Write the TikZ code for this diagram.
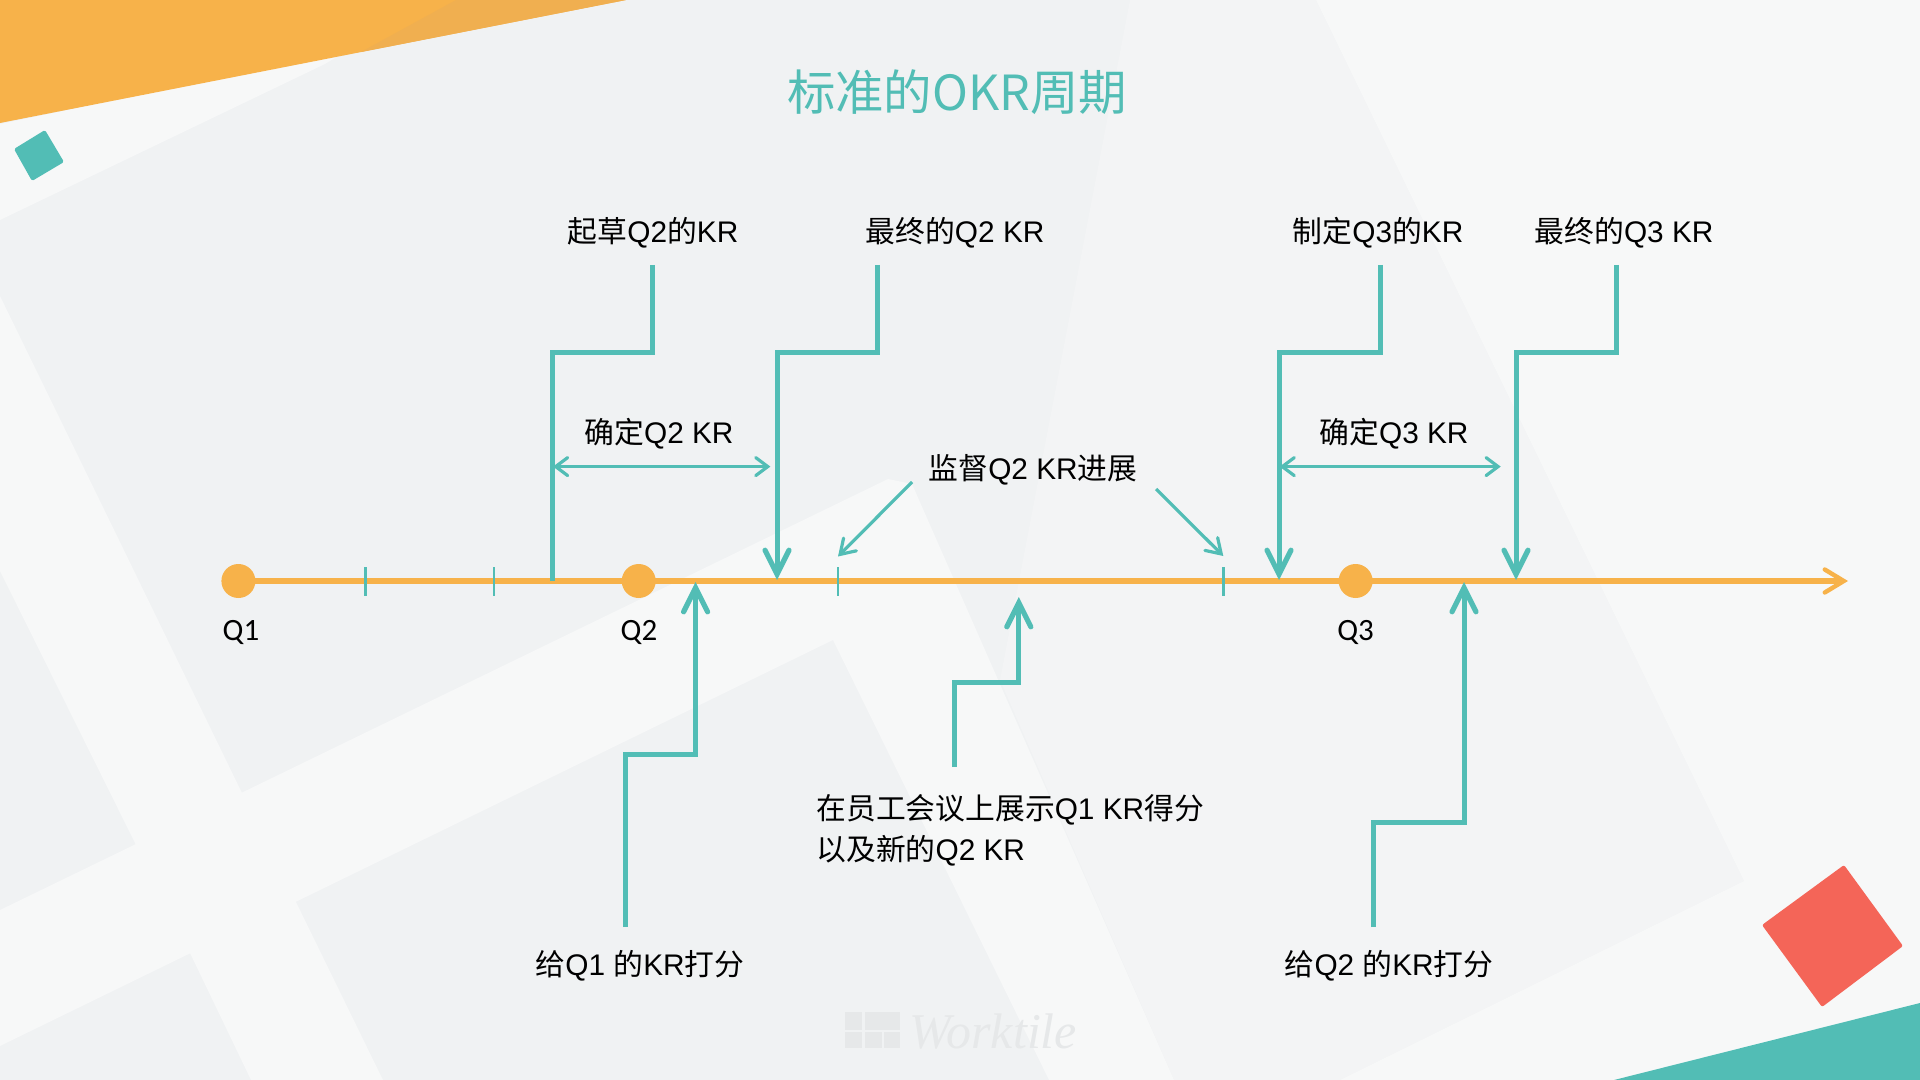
\documentclass[tikz,border=0pt]{standalone}
\usepackage{fontspec}
\usetikzlibrary{arrows.meta}
\setmainfont{Liberation Sans}
\newfontfamily\cjkf{Noto Sans CJK SC}
\newfontfamily\qf{Carlito}
\newfontfamily\wmf{Liberation Serif}
\newcommand\zh[1]{{\cjkf #1}}
\definecolor{bgdark}{HTML}{F0F2F3}
\definecolor{bglight}{HTML}{F7F8F8}
\definecolor{bgmid}{HTML}{F3F4F5}
\definecolor{orangeC}{HTML}{F7B24A}
\definecolor{orangeD}{HTML}{F0AF50}
\definecolor{tealC}{HTML}{52BDB5}
\definecolor{redC}{HTML}{F46558}
\definecolor{logoC}{HTML}{E6E8E9}
\tikzset{
  conn/.style={draw=tealC,line width=2.5pt,line join=miter},
  thick head/.style={-{Straight Barb[length=12pt,width=12pt,line cap=round,line width=2.6pt]}},
  thin conn/.style={draw=tealC,line width=1.6pt},
  thin head/.style={-{Straight Barb[length=7pt,width=9pt,line cap=round,line width=1.6pt]}},
  thin both/.style={{Straight Barb[length=6pt,width=9pt,line cap=round,line width=1.6pt]}-{Straight Barb[length=6pt,width=9pt,line cap=round,line width=1.6pt]}},
  axisline/.style={draw=orangeC,line width=2.7pt,-{Straight Barb[length=9.5pt,width=11.5pt,line cap=round,line width=2.2pt]}},
  tickmark/.style={draw=tealC,line width=1.4pt},
  qdot/.style={circle,fill=orangeC,minimum size=17pt,inner sep=0pt},
  lab/.style={font=\fontsize{14.9pt}{18pt}\selectfont,text=black,inner sep=0pt},
  qlab/.style={font=\fontsize{15.5pt}{18pt}\qf,text=black,inner sep=0pt}
}
\begin{document}
\begin{tikzpicture}[x=0.5pt,y=-0.5pt]
\useasboundingbox (0,0) rectangle (1920,1080);
% background
\fill[bgdark] (0,0) rectangle (1920,1080);
\fill[bgmid] (1130,0) -- (1316,0) -- (1744,881) -- (1340,1080) -- (1174,1080) -- (1000,680) -- cycle;
\fill[bglight] (0,124) -- (345,52) -- (325,64) -- (0,220) -- cycle;
\fill[bglight] (0,296) -- (119,540) -- (242,793) -- (296,902) -- (383,1080) -- (251,1080) -- (190,953) -- (135,843) -- (0,571) -- cycle;
\fill[bglight] (0,910) -- (888,479) -- (912,484) -- (1174,1080) -- (1049,1080) -- (833,640) -- (0,1046) -- cycle;
\fill[bglight] (1316,0) -- (1920,0) -- (1920,1080) -- (1340,1080) -- (1744,881) -- cycle;
% decorations
\fill[orangeC] (0,0) -- (626,0) -- (0,123) -- cycle;
\fill[orangeD] (456,0) -- (626,0) -- (361,52) -- cycle;
\fill[tealC,rounded corners=0.8pt] (45,130) -- (64,162) -- (32,181) -- (14,149) -- cycle;
\fill[redC,rounded corners=1pt] (1844,865) -- (1903,946) -- (1822,1007) -- (1762,925) -- cycle;
\fill[tealC] (1614,1080) -- (1920,1003) -- (1920,1080) -- cycle;
% watermark
\fill[logoC] (845,1012) rectangle (862,1030);
\fill[logoC] (865,1012) rectangle (900,1030);
\fill[logoC] (845,1032) rectangle (862,1048);
\fill[logoC] (865,1032) rectangle (882,1048);
\fill[logoC] (884,1032) rectangle (900,1048);
\node[inner sep=0pt,text=logoC,anchor=west,font=\fontsize{25pt}{28pt}\wmf\itshape] (wm) at (909,1032) {Worktile};
% title
\node[inner sep=0pt,text=tealC,font=\fontsize{24.2pt}{28pt}\cjkf] (title) at (957,92) {标准的OKR周期};
% axis nodes
\coordinate (axisA) at (238,581);
\coordinate (axisB) at (1848,581);
\draw[axisline] (axisA) -- (axisB);
\node[qdot] (q1) at (238.4,581) {};
\node[qdot] (q2) at (638.7,581) {};
\node[qdot] (q3) at (1355.6,581) {};
\node[qlab] (q1l) at (241,632) {Q1};
\node[qlab] (q2l) at (639,632) {Q2};
\node[qlab] (q3l) at (1355.6,632) {Q3};
% ticks
\foreach \n/\x in {ta/365.6,tb/494,tc/838,td/1223.3}{
  \coordinate (\n1) at (\x,567);
  \coordinate (\n2) at (\x,596);
  \draw[tickmark] (\n1) -- (\n2);
}
% labels
\node[lab] (l1) at (653,233) {\zh{起草}Q2\zh{的}KR};
\node[lab] (l2) at (955,233) {\zh{最终的}Q2 KR};
\node[lab] (l3) at (1378,233) {\zh{制定}Q3\zh{的}KR};
\node[lab] (l4) at (1624,233) {\zh{最终的}Q3 KR};
\node[lab] (l5) at (659,434) {\zh{确定}Q2 KR};
\node[lab] (l6) at (1394,434) {\zh{确定}Q3 KR};
\node[lab] (l7) at (1033,470) {\zh{监督}Q2 KR\zh{进展}};
\node[lab] (l8) at (640,965.5) {\zh{给}Q1 \zh{的}KR\zh{打分}};
\node[lab] (l9) at (1389,965.5) {\zh{给}Q2 \zh{的}KR\zh{打分}};
\node[lab,anchor=west] (l10) at (816,809.5) {\zh{在员工会议上展示}Q1 KR\zh{得分}};
\node[lab,anchor=west] (l11) at (816,851) {\zh{以及新的}Q2 KR};
% connector points
\coordinate (a1) at (652.8,265); \coordinate (a2) at (552.3,353); \coordinate (a3) at (552.3,581);
\coordinate (b1) at (877.5,265); \coordinate (b2) at (777,353); \coordinate (b3) at (777,580);
\coordinate (c1) at (1380,265); \coordinate (c2) at (1279,353); \coordinate (c3) at (1279,580);
\coordinate (d1) at (1616.5,265); \coordinate (d2) at (1516,353); \coordinate (d3) at (1516,580);
\coordinate (e1) at (625.8,927); \coordinate (e2) at (695.6,754.5); \coordinate (e3) at (695.6,582);
\coordinate (f1) at (1373.4,927); \coordinate (f2) at (1464,822.4); \coordinate (f3) at (1464,582);
\coordinate (g1) at (954,767); \coordinate (g2) at (1018.8,682); \coordinate (g3) at (1018.8,597);
\coordinate (h1) at (553,466.6); \coordinate (h2) at (770.4,466.6);
\coordinate (i1) at (1279.6,466.6); \coordinate (i2) at (1500.7,466.6);
\coordinate (j1) at (912,482); \coordinate (j2) at (838,556.5);
\coordinate (k1) at (1156,489); \coordinate (k2) at (1223.3,556);
% connectors
\draw[conn] (a1) |- (a2) -- (a3);
\draw[conn,thick head] (b1) |- (b2) -- (b3);
\draw[conn,thick head] (c1) |- (c2) -- (c3);
\draw[conn,thick head] (d1) |- (d2) -- (d3);
\draw[conn,thick head] (e1) |- (e2) -- (e3);
\draw[conn,thick head] (f1) |- (f2) -- (f3);
\draw[conn,thick head] (g1) |- (g2) -- (g3);
\draw[thin conn,thin both] (h1) -- (h2);
\draw[thin conn,thin both] (i1) -- (i2);
\draw[thin conn,thin head] (j1) -- (j2);
\draw[thin conn,thin head] (k1) -- (k2);
\end{tikzpicture}
\end{document}
